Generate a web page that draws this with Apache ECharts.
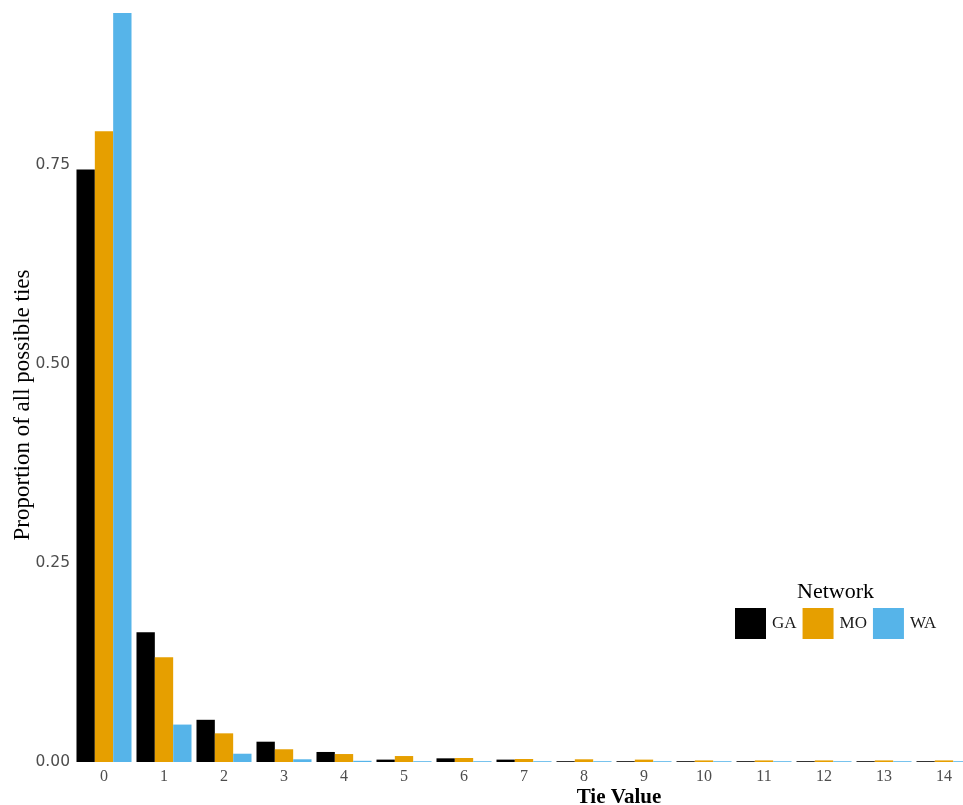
<!DOCTYPE html>
<html>
<head>
<meta charset="utf-8">
<script src="https://cdn.jsdelivr.net/npm/echarts@6/dist/echarts.min.js"></script>
<style>
  html, body { margin: 0; padding: 0; background: #ffffff; }
  #chart { width: 963px; height: 805px; }
</style>
</head>
<body>
<div id="chart"></div>
<script>
// Tie values on the x axis
const tieValues = ['0', '1', '2', '3', '4', '5', '6', '7', '8', '9', '10', '11', '12', '13', '14'];

// Proportion of all possible ties, per network
const gaValues = [0.744, 0.163, 0.053, 0.0255, 0.0126, 0.003, 0.0046, 0.003, 0.001, 0.001, 0.001, 0.001, 0.001, 0.001, 0.001];
const moValues = [0.792, 0.1315, 0.036, 0.016, 0.010, 0.0075, 0.005, 0.0038, 0.0034, 0.003, 0.002, 0.002, 0.002, 0.002, 0.002];
const waValues = [0.9406, 0.047, 0.0104, 0.0034, 0.0015, 0.001, 0.001, 0.001, 0.001, 0.001, 0.001, 0.001, 0.001, 0.001, 0.001];

const networkNames = ['GA', 'MO', 'WA'];
const networkColors = ['#000000', '#E69F00', '#56B4E9'];

const yTicks = [0, 0.25, 0.5, 0.75];

const chart = echarts.init(document.getElementById('chart'), null, { renderer: 'canvas' });

const serif = '"Liberation Serif", "DejaVu Serif", serif';

const seriesData = [gaValues, moValues, waValues];

chart.setOption({
  animation: false,
  backgroundColor: '#ffffff',
  color: networkColors,
  grid: { left: 74, top: 13, width: 900, height: 749, containLabel: false, outerBoundsMode: 'none' },
  legend: {
    data: networkNames,
    left: 735,
    top: 608,
    padding: 0,
    orient: 'horizontal',
    icon: 'rect',
    itemWidth: 31,
    itemHeight: 31,
    itemGap: 6,
    textStyle: { fontFamily: serif, fontSize: 17, color: '#1a1a1a', padding: [0, 0, 0, 1] },
    selectedMode: false
  },
  graphic: [
    {
      type: 'text',
      left: 797, top: 581,
      style: { text: 'Network', fontFamily: serif, fontSize: 22, fill: '#000000' }
    },
    {
      type: 'text',
      x: 23, y: 405,
      rotation: Math.PI / 2,
      style: {
        text: 'Proportion of all possible ties',
        fontFamily: serif, fontSize: 23, fill: '#000000',
        align: 'center', verticalAlign: 'middle'
      }
    }
  ],
  xAxis: {
    type: 'category',
    data: tieValues,
    boundaryGap: true,
    name: 'Tie Value',
    nameLocation: 'middle',
    nameMoveOverlap: false,
    nameGap: 25,
    nameTextStyle: {
      fontFamily: serif, fontSize: 21, fontWeight: 'bold', color: '#000000',
      padding: [0, 0, 0, 190]
    },
    axisLine: { show: false },
    axisTick: { show: false },
    axisLabel: { fontFamily: serif, fontSize: 16, color: '#4d4d4d', margin: 7 },
    splitLine: { show: false }
  },
  yAxis: {
    type: 'value',
    min: 0,
    max: function (v) { return v.max; },
    interval: 0.25,
    axisLine: { show: false },
    axisTick: { show: false },
    splitLine: { show: false },
    axisLabel: {
      fontFamily: '"DejaVu Sans", sans-serif',
      fontSize: 15.5,
      color: '#4d4d4d',
      margin: 4,
      showMaxLabel: false,
      formatter: function (v) {
        return yTicks.some(t => Math.abs(t - v) < 1e-9) ? v.toFixed(2) : '';
      }
    }
  },
  series: networkNames.map((name, i) => ({
    name: name,
    type: 'bar',
    data: seriesData[i],
    barGap: '0%',
    barCategoryGap: '8.3%',
    itemStyle: { color: networkColors[i] }
  }))
});
</script>
</body>
</html>
